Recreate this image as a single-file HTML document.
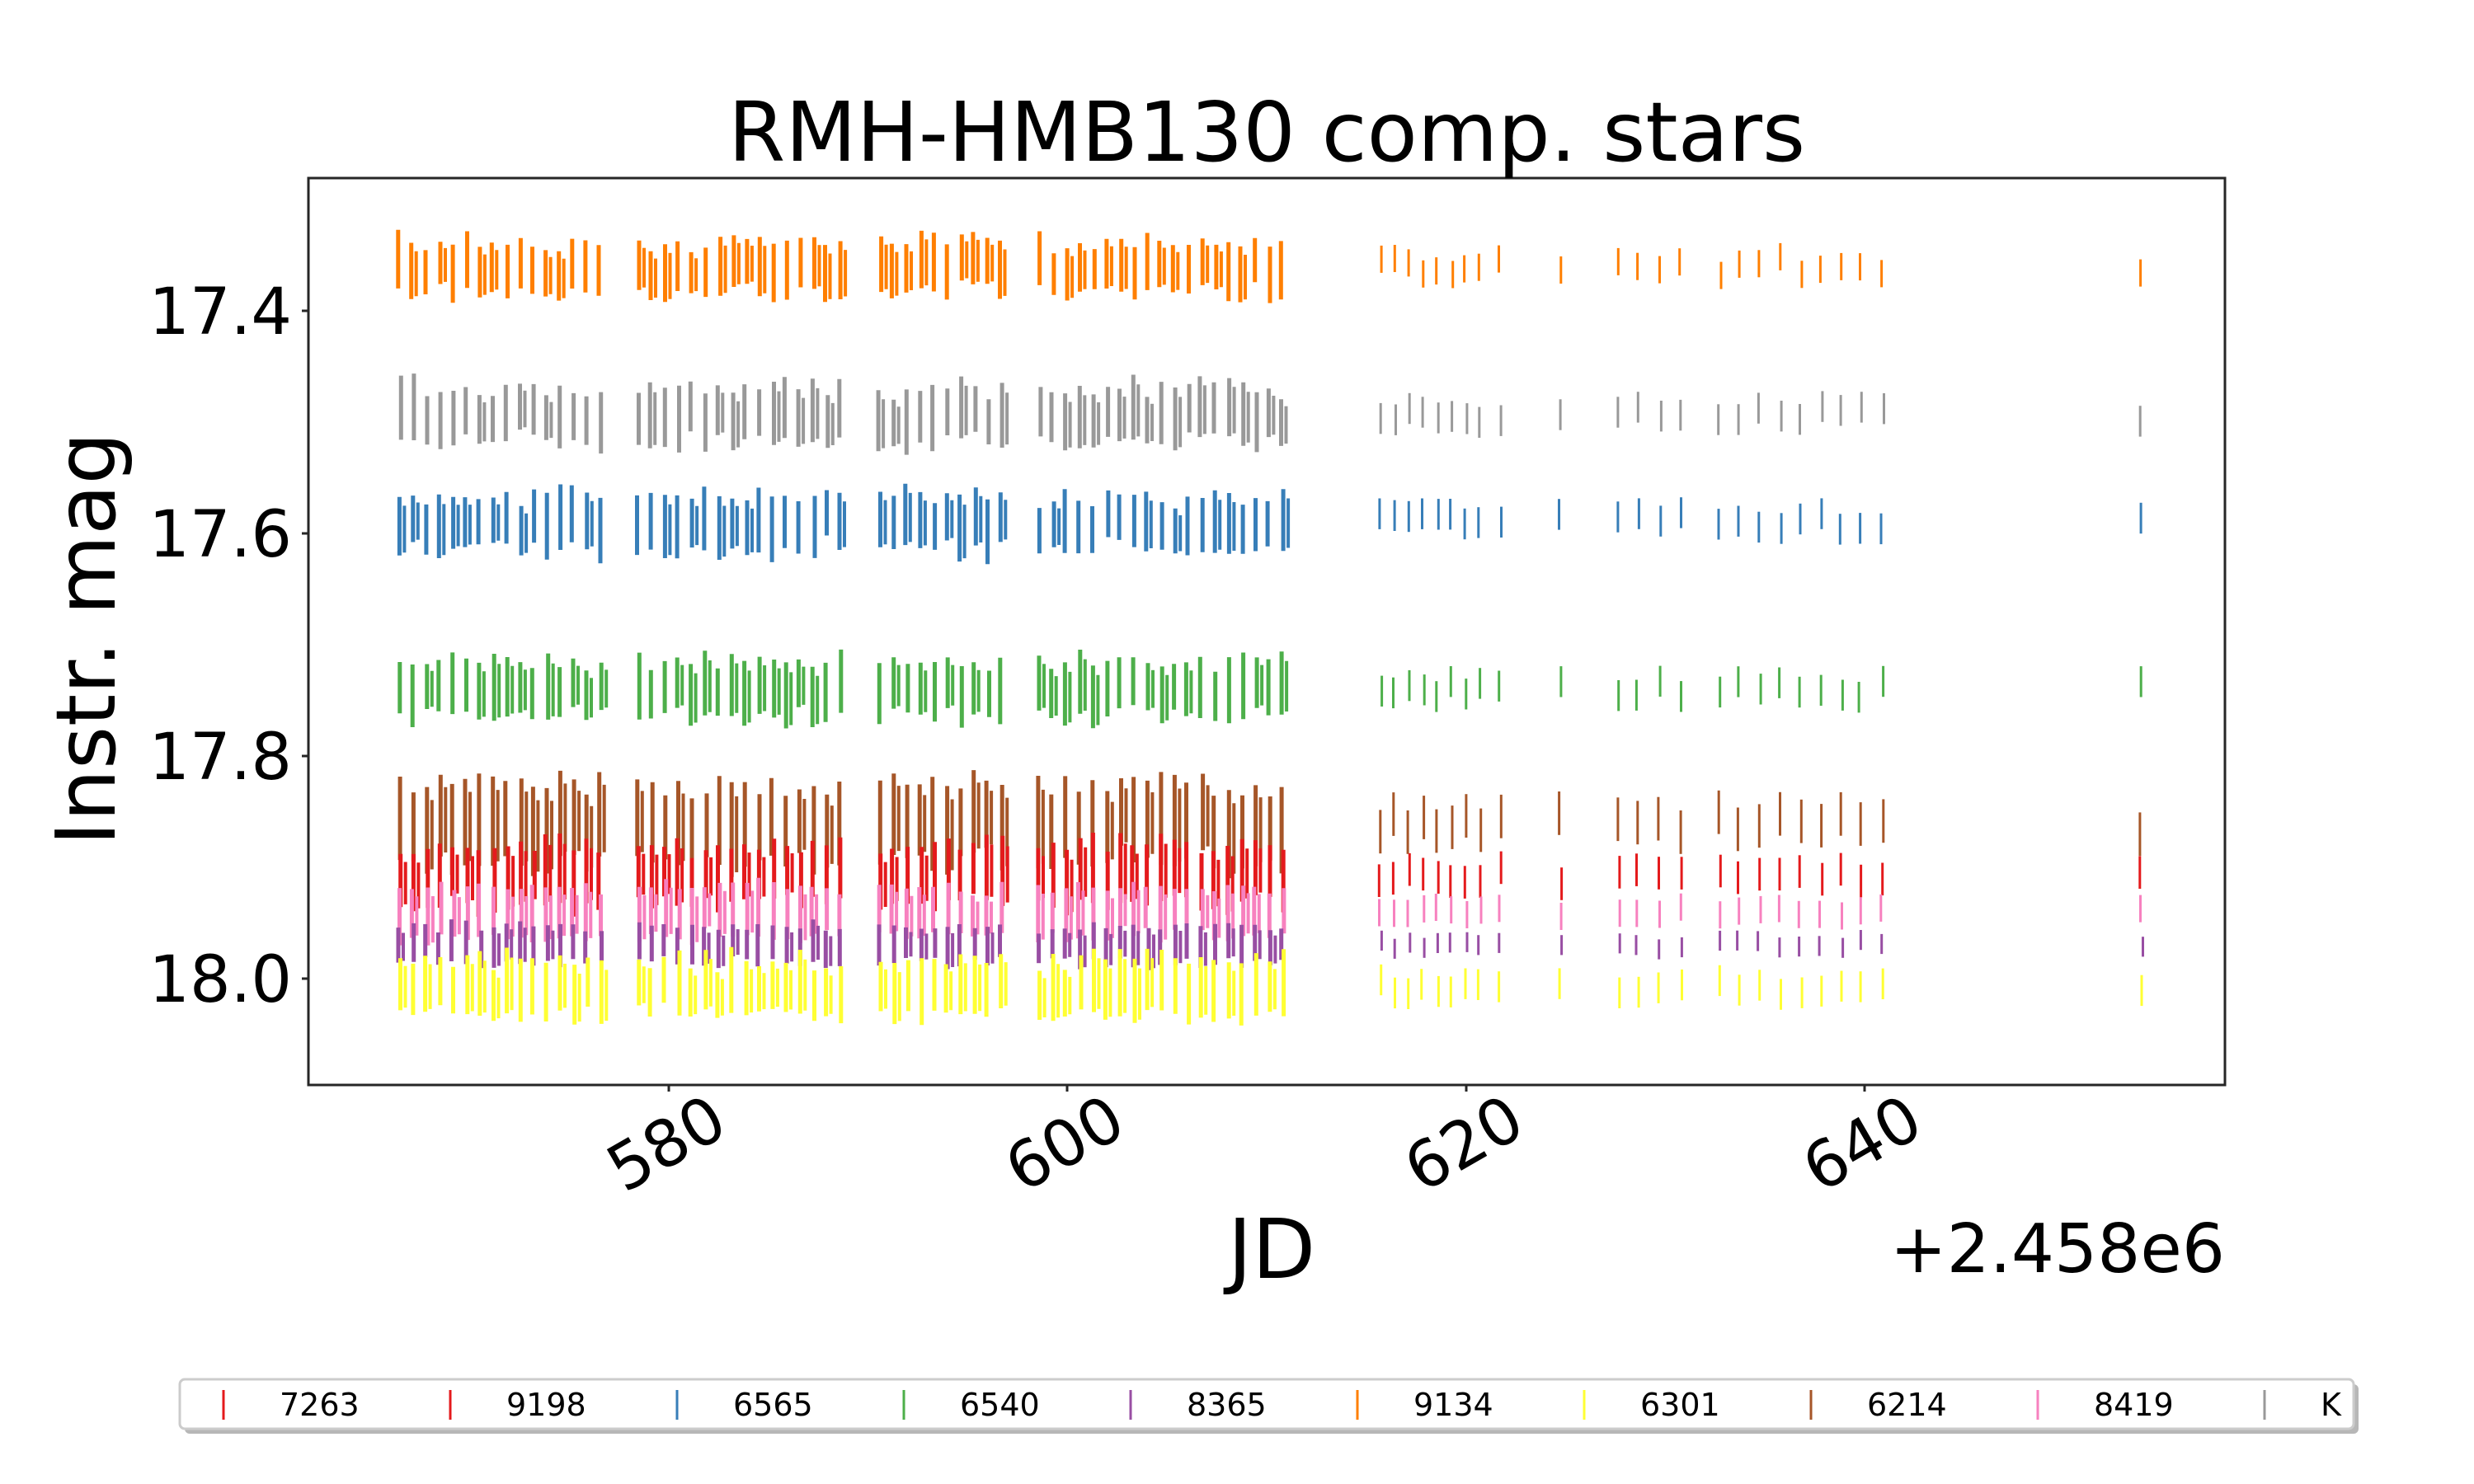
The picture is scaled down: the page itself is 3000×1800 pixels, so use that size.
<!DOCTYPE html>
<html><head><meta charset="utf-8"><style>
html,body{margin:0;padding:0;background:#fff;}
svg{display:block;font-family:"DejaVu Sans","Liberation Sans",sans-serif;}
</style></head><body>
<svg id="s" width="3000" height="1800" viewBox="0 0 3000 1800" xmlns="http://www.w3.org/2000/svg">
<rect width="3000" height="1800" fill="#fff"/>
<g id="data"></g>
<rect x="374" y="216" width="2324" height="1100" fill="none" stroke="#262626" stroke-width="3"/>
<text x="1536" y="195" font-size="100" text-anchor="middle">RMH-HMB130 comp. stars</text>
<g stroke="#262626" stroke-width="3">
<line x1="366" y1="377" x2="374" y2="377"/><line x1="366" y1="647" x2="374" y2="647"/>
<line x1="366" y1="917" x2="374" y2="917"/><line x1="366" y1="1187" x2="374" y2="1187"/>
<line x1="811" y1="1316" x2="811" y2="1324"/><line x1="1294" y1="1316" x2="1294" y2="1324"/>
<line x1="1778" y1="1316" x2="1778" y2="1324"/><line x1="2261" y1="1316" x2="2261" y2="1324"/>
</g>
<g font-size="78" text-anchor="end">
<text x="354" y="405">17.4</text><text x="354" y="675">17.6</text>
<text x="354" y="945">17.8</text><text x="354" y="1215">18.0</text>
</g>
<g font-size="78" text-anchor="middle">
<text x="808" y="1414" transform="rotate(-30 808 1387)">580</text>
<text x="1291" y="1414" transform="rotate(-30 1291 1387)">600</text>
<text x="1775" y="1414" transform="rotate(-30 1775 1387)">620</text>
<text x="2258" y="1414" transform="rotate(-30 2258 1387)">640</text>
</g>
<text x="1542" y="1550" font-size="100" text-anchor="middle">JD</text>
<text x="2698" y="1543" font-size="82" text-anchor="end">+2.458e6</text>
<text font-size="100" text-anchor="middle" transform="translate(139,775) rotate(-90)">Instr. mag</text>
<rect x="224" y="1679" width="2636" height="60" rx="6" fill="#999" opacity="0.7"/>
<rect x="218" y="1673" width="2636" height="60" rx="6" fill="#fff" stroke="#ccc" stroke-width="3"/>
<g id="leg" font-size="38"></g>
</svg>
<script>
var seed=12345;function r(){seed=(seed*1103515245+12345)%2147483648;return seed/2147483648;}
var g1=[],i;
function grp(a,b,n){for(i=0;i<n;i++)g1.push([a+(b-a)*i/(n-1),0]);}
grp(253,380,16);grp(404,532,16);grp(557,634,10);grp(658,812,19);
var late=[874,883,892,901,910,919,928,937,950,988,1025,1037,1051,1064,1089,1101,1114,1127,1140,1153,1166,1178,1192,1356];
late.forEach(function(x){g1.push([x,1]);});
var S=[["#a65628",998,48,14],["#e41a1c",1062,36,10],["#f781bf",1106,30,6],["#984ea3",1146,22,6],["#ffff33",1198,34,10],
["#4daf4a",836,34,10],["#377eb8",633,34,12],["#999999",503,34,10],["#ff7f00",323,30,12]];
var d=document.getElementById("data"),h="";
S.forEach(function(s){
 g1.forEach(function(p){
  var x=p[0]*1.915+(r()-0.5)*4;
  var c=s[1]+(r()-0.5)*2*s[3];
  var hl=p[1]?s[2]*0.55:s[2]*(0.8+r()*0.4);
  h+='<line x1="'+x.toFixed(1)+'" x2="'+x.toFixed(1)+'" y1="'+(c-hl).toFixed(1)+'" y2="'+(c+hl).toFixed(1)+'" stroke="'+s[0]+'" stroke-width="'+(p[1]?3:5)+'"/>';
  if(!p[1]&&r()<0.5){var x2=x+6;h+='<line x1="'+x2.toFixed(1)+'" x2="'+x2.toFixed(1)+'" y1="'+(c-hl*0.7).toFixed(1)+'" y2="'+(c+hl*0.9).toFixed(1)+'" stroke="'+s[0]+'" stroke-width="4"/>';}
 });
});
d.innerHTML=h;
var L=[["7263","#e41a1c"],["9198","#e41a1c"],["6565","#377eb8"],["6540","#4daf4a"],["8365","#984ea3"],["9134","#ff7f00"],["6301","#ffff33"],["6214","#a65628"],["8419","#f781bf"],["K","#999999"]];
var lh="";
L.forEach(function(e,k){var x=271+k*275;
 lh+='<line x1="'+x+'" x2="'+x+'" y1="1686" y2="1722" stroke="'+e[1]+'" stroke-width="3"/>';
 lh+='<text x="'+(x+68)+'" y="1717">'+e[0]+'</text>';});
document.getElementById("leg").innerHTML=lh;
</script>
</body></html>
